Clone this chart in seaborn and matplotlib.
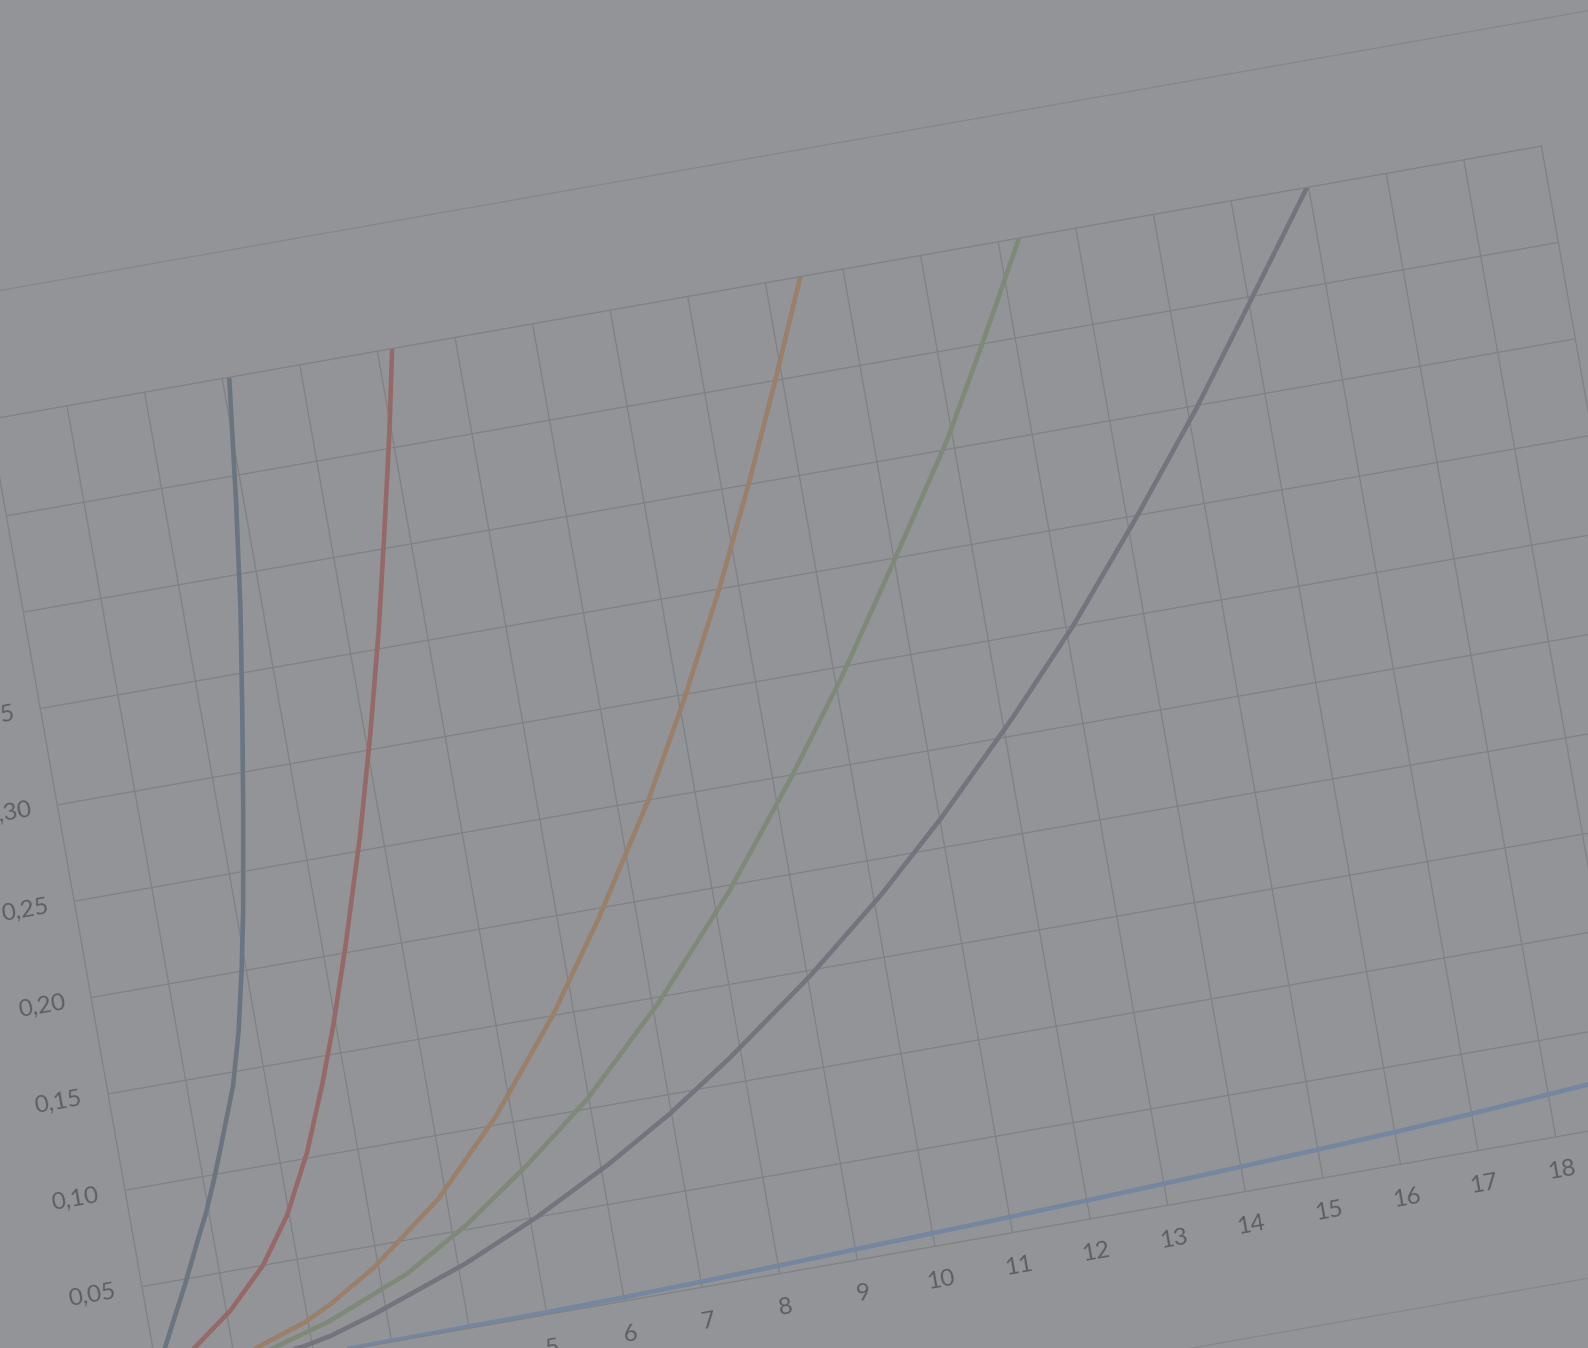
# %% Global Variables
import numpy as np
import pandas as pd

import matplotlib
matplotlib.use("Agg")
import matplotlib.pyplot as plt
import seaborn as sns
from matplotlib.patches import Rectangle
from matplotlib.transforms import Affine2D
import mpl_toolkits.axisartist.floating_axes as floating_axes
from mpl_toolkits.axisartist.grid_finder import FixedLocator, DictFormatter

sns.set_style("white")
plt.rcParams['font.family'] = ['Lato', 'DejaVu Sans']

# axis ticks
x_ticks = list(range(0, 21))
x_labels = [str(v) for v in x_ticks]
y_ticks = [0.00, 0.05, 0.10, 0.15, 0.20, 0.25, 0.30, 0.35, 0.40, 0.45, 0.50]
y_labels = ['0,00', '0,05', '0,10', '0,15', '0,20', '0,25', '0,30', '0,35', '0,40', '0,45', '0,50']

# series
s1_x = [0.00, 0.15, 0.54, 0.77, 0.97, 1.13, 1.28, 1.58, 1.77, 1.95, 2.10, 2.31, 2.52, 2.72, 2.90, 3.09]
s1_y = [0.004, 0.017, 0.047, 0.066, 0.082, 0.097, 0.112, 0.143, 0.170, 0.202, 0.232, 0.280, 0.331, 0.382, 0.436, 0.500]

s2_x = [0.00, 0.47, 1.05, 1.56, 1.97, 2.36, 2.70, 2.97, 3.29, 3.72, 4.07, 4.40, 4.67, 4.96, 5.19]
s2_y = [0.000, 0.013, 0.030, 0.050, 0.073, 0.103, 0.136, 0.165, 0.203, 0.258, 0.308, 0.359, 0.405, 0.456, 0.500]

s3_x = [0.00, 1.22, 1.95, 2.32, 2.94, 3.90, 4.79, 5.73, 6.52, 7.40, 8.06, 8.75, 9.38, 9.92, 10.45]
s3_y = [0.000, 0.008, 0.0175, 0.0245, 0.039, 0.068, 0.104, 0.150, 0.195, 0.250, 0.297, 0.350, 0.403, 0.451, 0.500]

s4_x = [0.00, 1.51, 2.27, 3.34, 4.18, 5.08, 5.98, 7.08, 8.21, 9.24, 10.09, 10.97, 11.93, 12.59, 13.27]
s4_y = [0.000, 0.0075, 0.016, 0.033, 0.052, 0.077, 0.105, 0.147, 0.197, 0.249, 0.295, 0.347, 0.405, 0.451, 0.500]

s5_x = [0.00, 1.88, 2.25, 2.84, 4.10, 5.09, 6.09, 6.97, 7.85, 9.03, 10.11, 11.02, 12.13, 13.09, 14.10, 15.10, 15.97, 16.98]
s5_y = [0.000, 0.0055, 0.0085, 0.0155, 0.033, 0.050, 0.070, 0.090, 0.113, 0.147, 0.182, 0.215, 0.259, 0.300, 0.348, 0.398, 0.445, 0.500]

s6_x = [0, 2, 5, 6, 7, 8, 9, 10, 11, 12, 13, 14, 15, 16, 17, 18, 19]
s6_y = [0.000, 0.0003, 0.0012, 0.0019, 0.0029, 0.0041, 0.0055, 0.0068, 0.0081, 0.0096, 0.0112, 0.0129, 0.0147, 0.0167, 0.0191, 0.0220, 0.0250]

names = ['Serie 1', 'Serie 2', 'Serie 3', 'Serie 4', 'Serie 5', 'Serie 6']
colors = ['#6b7580', '#976868', '#9a7f69', '#7f8978', '#74737e', '#7586a0']

BG = '#939498'
GRID = '#808185'
BORDER = '#86878b'
TEXT = '#5e5f64'

# %% Functions
def longForm():
    frames = []
    for name, xs, ys in zip(names, [s1_x, s2_x, s3_x, s4_x, s5_x, s6_x],
                            [s1_y, s2_y, s3_y, s4_y, s5_y, s6_y]):
        frames.append(pd.DataFrame({'x': xs, 'y': ys, 'serie': name}))
    return pd.concat(frames, ignore_index=True)


# %% Plot
W, H = 1588, 1348
fig = plt.figure(figsize=(W / 100, H / 100), dpi=100, facecolor=BG)

# the chart is seen turned and stretched: data -> pixels
view = Affine2D(np.array([[77.6, -339.0, 158.9],
                          [13.67, 1927.0, -35.0],
                          [0.0, 0.0, 1.0]]))

grid_helper = floating_axes.GridHelperCurveLinear(
    view, extremes=(x_ticks[0], x_ticks[-1], y_ticks[0], y_ticks[-1]),
    grid_locator1=FixedLocator(x_ticks),
    grid_locator2=FixedLocator(y_ticks),
    tick_formatter1=DictFormatter(dict(zip(x_ticks, x_labels))),
    tick_formatter2=DictFormatter(dict(zip(y_ticks, y_labels))))

ax = fig.add_axes([0, 0, 1, 1], axes_class=floating_axes.FloatingAxes,
                  grid_helper=grid_helper)
ax.set_aspect('auto')
ax.set_xlim(0, W)
ax.set_ylim(0, H)
ax.patch.set_facecolor(BG)
ax.patch.zorder = 0.9

ax.grid(True, color=GRID, linewidth=0.9)
for side in ['left', 'right', 'top', 'bottom']:
    ax.axis[side].line.set_color(GRID)
    ax.axis[side].line.set_linewidth(0.9)
    ax.axis[side].major_ticks.set_visible(False)
    ax.axis[side].minor_ticks.set_visible(False)
for side in ['right', 'top']:
    ax.axis[side].major_ticklabels.set_visible(False)
for side, pad in [('bottom', 17), ('left', 19)]:
    ax.axis[side].major_ticklabels.set_visible(True)
    ax.axis[side].major_ticklabels.set_fontsize(17.5)
    ax.axis[side].major_ticklabels.set_color(TEXT)
    ax.axis[side].major_ticklabels.set_pad(pad)

aux_ax = ax.get_aux_axes(view)
aux_ax.patch = ax.patch

# chart area frame
aux_ax.add_patch(Rectangle((-3, -0.074), 26, 0.638, fill=False,
                           edgecolor=BORDER, linewidth=0.9, clip_on=False))

df = longForm()
sns.lineplot(data=df, x='x', y='y', hue='serie', palette=dict(zip(names, colors)),
             estimator=None, sort=False, legend=False, linewidth=3.3,
             solid_joinstyle='round', solid_capstyle='butt', ax=aux_ax)

fig.savefig('out.png', dpi=100, facecolor=BG)
